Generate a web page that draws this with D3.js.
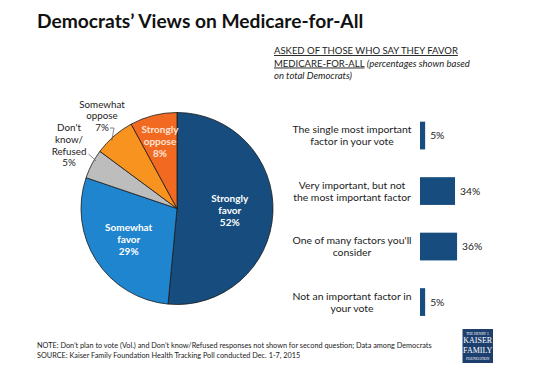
<!DOCTYPE html>
<html><head><meta charset="utf-8">
<script src="https://cdn.jsdelivr.net/npm/d3@7"></script>
<style>
html,body{margin:0;padding:0;background:#fff;}
svg{display:block;font-family:Lato, "Open Sans", sans-serif;}
</style></head>
<body>
<svg id="chart" width="553" height="369"></svg>
<script>
// ---- data ----
const pieCategories = ["Strongly favor", "Somewhat favor", "Don't know/Refused", "Somewhat oppose", "Strongly oppose"];
const pieValues = [52, 29, 5, 7, 8];
const pieColors = ["#164d7e", "#1f85cf", "#bdbdbd", "#f7931e", "#f26a22"];
const pieLabelLines = [["Strongly", "favor", "52%"], ["Somewhat", "favor", "29%"], ["Don't", "know/", "Refused", "5%"], ["Somewhat", "oppose", "7%"], ["Strongly", "oppose", "8%"]];

const barCategories = ["The single most important factor in your vote", "Very important, but not the most important factor", "One of many factors you'll consider", "Not an important factor in your vote"];
const barLabelLines = [["The single most important", "factor in your vote"], ["Very important, but not", "the most important factor"], ["One of many factors you'll", "consider"], ["Not an important factor in", "your vote"]];
const barValues = [5, 34, 36, 5];

const svg = d3.select("#chart");

// title
svg.append("text").attr("x", 37).attr("y", 28)
  .attr("font-size", 19.2).attr("font-weight", 700).attr("fill", "#111")
  .text("Democrats\u2019 Views on Medicare-for-All");

// subtitle
const sub = svg.append("g").attr("font-size", 9.5).attr("fill", "#222");
sub.append("text").attr("x", 274).attr("y", 54).attr("text-decoration", "underline").text("ASKED OF THOSE WHO SAY THEY FAVOR");
const s2 = sub.append("text").attr("x", 274).attr("y", 66.5);
s2.append("tspan").attr("text-decoration", "underline").text("MEDICARE-FOR-ALL");
s2.append("tspan").attr("font-style", "italic").text(" (percentages shown based");
sub.append("text").attr("x", 274).attr("y", 79).attr("font-style", "italic").text("on total Democrats)");

// ---- pie ----
const cx = 177, cy = 208.5, r = 96;
const pie = d3.pie().sort(null).value(d => d)(pieValues);
const arc = d3.arc().innerRadius(0).outerRadius(r);
const gPie = svg.append("g").attr("transform", `translate(${cx},${cy})`);
gPie.selectAll("path").data(pie).join("path")
  .attr("d", arc).attr("fill", (d, i) => pieColors[i])
  .attr("stroke", "#1a1a1a").attr("stroke-width", 0.8);

// inside labels
const labelPos = [null, null, null, null, null];
const inside = [0, 1, 4];
const insideRadius = {0: 0.55, 1: 0.6, 4: 0.72};
inside.forEach(i => {
  const a = (pie[i].startAngle + pie[i].endAngle) / 2;
  const rr = r * insideRadius[i];
  labelPos[i] = [Math.sin(a) * rr, -Math.cos(a) * rr];
});
const lh = 12;
inside.forEach(i => {
  const lines = pieLabelLines[i];
  const t = gPie.append("text").attr("text-anchor", "middle")
    .attr("font-size", 10).attr("font-weight", 700)
    .attr("fill", i === 4 ? "#fde3d3" : "#fff");
  lines.forEach((ln, k) => {
    t.append("tspan").attr("x", labelPos[i][0])
      .attr("y", labelPos[i][1] + (k - (lines.length - 1) / 2) * lh + 3.5).text(ln);
  });
});

// outside labels
function outsideLabel(i, x, y0) {
  const t = svg.append("text").attr("text-anchor", "middle").attr("font-size", 9.8).attr("fill", "#222");
  pieLabelLines[i].forEach((ln, k) => t.append("tspan").attr("x", x).attr("y", y0 + k * 11.8).text(ln));
}
outsideLabel(3, 102, 107.5);
outsideLabel(2, 69, 131);
// leader lines
const sOpp = pie[3], sDk = pie[2];
const aOpp = (sOpp.startAngle + sOpp.endAngle) / 2, aDk = (sDk.startAngle + sDk.endAngle) / 2;
const edge = (a, k) => [cx + Math.sin(a) * r * k, cy - Math.cos(a) * r * k];
const eo = edge(aOpp - 0.05, 0.98);
svg.append("polyline").attr("fill", "none").attr("stroke", "#555").attr("stroke-width", 0.7)
  .attr("points", `110,128 114,128 ${eo[0]},${eo[1]}`);
const ed = edge(aDk + 0.05, 0.98);
svg.append("polyline").attr("fill", "none").attr("stroke", "#555").attr("stroke-width", 0.7)
  .attr("points", `88.5,154 ${ed[0]},${ed[1]}`);

// ---- bars ----
const x = d3.scaleLinear().domain([0, 100]).range([420, 523]);
const y = d3.scaleBand().domain(barCategories).range([107.8, 329.8]).paddingInner(0.5).paddingOuter(0.25);
const gBar = svg.append("g");
gBar.selectAll("rect").data(barValues).join("rect")
  .attr("x", x(0)).attr("y", (d, i) => y(barCategories[i]))
  .attr("width", d => x(d) - x(0)).attr("height", y.bandwidth())
  .attr("fill", "#164d7e");
gBar.selectAll("text.val").data(barValues).join("text").attr("class", "val")
  .attr("x", d => x(d) + 5).attr("y", (d, i) => y(barCategories[i]) + y.bandwidth() / 2 + 3.5)
  .attr("font-size", 10.3).attr("fill", "#222").text(d => d + "%");
barCategories.forEach((c, i) => {
  const lines = barLabelLines[i];
  const yc = y(c) + y.bandwidth() / 2;
  const t = gBar.append("text").attr("text-anchor", "middle").attr("font-size", 10.4).attr("fill", "#222");
  lines.forEach((ln, k) => t.append("tspan").attr("x", 352).attr("y", yc + (k - (lines.length - 1) / 2) * 12 + 3.5).text(ln));
});

// footer
const ft = svg.append("g").attr("font-size", 7.3).attr("fill", "#222");
ft.append("text").attr("x", 37).attr("y", 347.5).text("NOTE: Don\u2019t plan to vote (Vol.) and Don\u2019t know/Refused responses not shown for second question; Data among Democrats");
ft.append("text").attr("x", 37).attr("y", 357.5).text("SOURCE: Kaiser Family Foundation Health Tracking Poll conducted Dec. 1-7, 2015");

// logo
const lg = svg.append("g");
lg.append("rect").attr("x", 462.5).attr("y", 329).attr("width", 30.5).attr("height", 34).attr("fill", "#1c3f6e");
const lt = lg.append("g").attr("fill", "#fff").attr("text-anchor", "middle").attr("font-family", "Liberation Serif, serif");
lt.append("text").attr("x", 477.7).attr("y", 334.5).attr("font-size", 3.6).text("THE HENRY J.");
lt.append("text").attr("x", 477.7).attr("y", 343).attr("font-size", 8).text("KAISER");
lt.append("text").attr("x", 477.7).attr("y", 352.5).attr("font-size", 8).text("FAMILY");
lt.append("text").attr("x", 477.7).attr("y", 359.5).attr("font-size", 3.6).text("FOUNDATION");
</script>
</body></html>
